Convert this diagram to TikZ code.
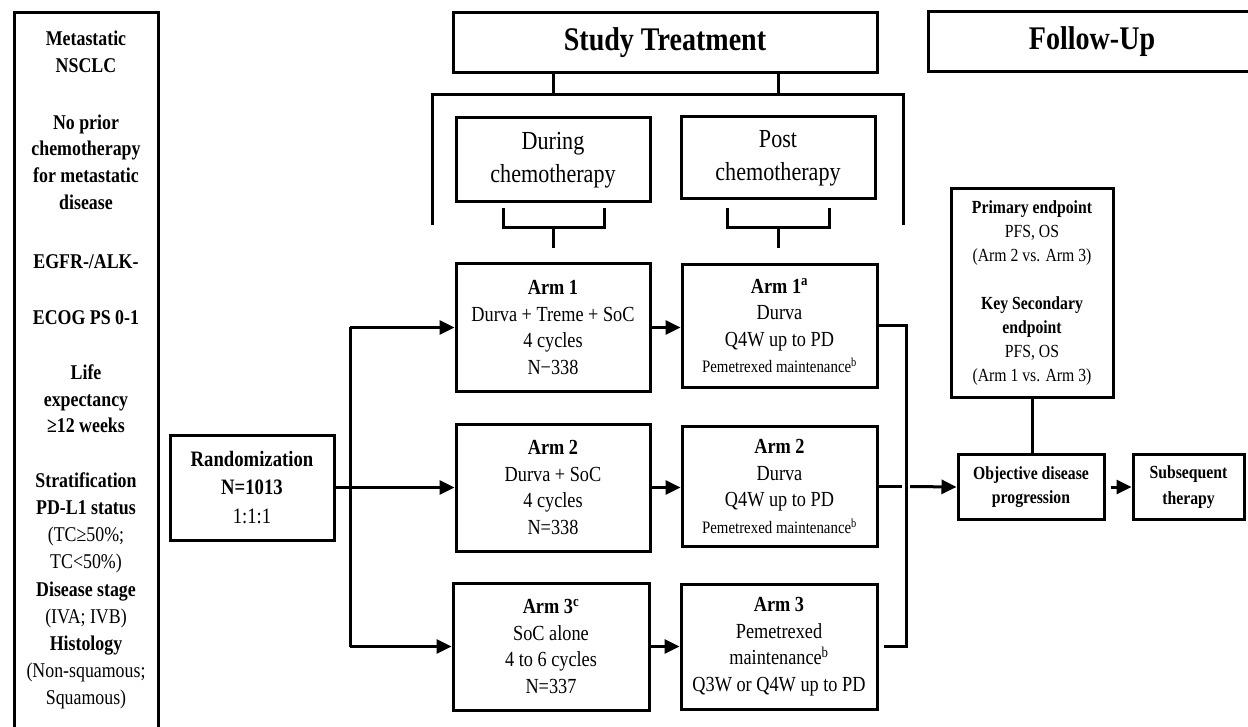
\documentclass[tikz,border=0pt]{standalone}
\usepackage{fontspec}
\setmainfont{Liberation Serif}[FakeStretch=0.85]
\usetikzlibrary{arrows.meta}
\begin{document}
\begin{tikzpicture}[x=1pt,y=-1pt,
  box/.style={draw, line width=3pt, inner sep=0pt, align=center},
  ln/.style={line width=3pt},
  arr/.style={line width=3pt, -{Triangle[length=15pt,width=14pt]}},
  body/.style={font=\fontsize{21.5}{26.5}\selectfont},
  head/.style={font=\fontsize{33}{38}\selectfont\bfseries},
  phase/.style={font=\fontsize{26}{33}\selectfont},
  lt/.style={align=center, inner sep=0pt, font=\fontsize{21}{26.7}\selectfont\bfseries},
  small/.style={font=\fontsize{18.5}{24}\selectfont}]
\useasboundingbox (0,0) rectangle (1248,727);

% left inclusion column
\draw[ln] (14,727) -- (14,13) -- (158,13) -- (158,727);
\node[lt] (c1) at (86,51.5) {Metastatic\\NSCLC};
\node[lt] (c2) at (86,162) {No prior\\chemotherapy\\for metastatic\\disease};
\node[lt] (c3) at (86,262) {EGFR-/ALK-};
\node[lt] (c4) at (86,318) {ECOG PS 0-1};
\node[lt] (c5) at (86,399) {Life\\expectancy\\≥12 weeks};
\node[lt, font=\fontsize{21}{27.2}\selectfont] (c6) at (86,591)
  {\textbf{Stratification}\\\textbf{PD-L1 status}\\(TC≥50\%;\\TC<50\%)\\\textbf{Disease stage}\\(IVA; IVB)\\\textbf{Histology}\\(Non-squamous;\\Squamous)};

% headers
\node[box, head, minimum width=424pt, minimum height=60pt] (stud) at (665,43) {Study Treatment};
\draw[ln] (1248,12) -- (928,12) -- (928,72) -- (1248,72);
\node[head, inner sep=0pt] (fu) at (1092,42) {Follow-Up};

% phase boxes
\node[box, phase, minimum width=194pt, minimum height=84pt] (during) at (553,160) {During\\chemotherapy};
\node[box, phase, minimum width=194pt, minimum height=82pt] (post) at (778,158) {Post\\chemotherapy};

% bracket under Study Treatment
\coordinate (bl) at (432,225);
\coordinate (tl) at (432,95);
\coordinate (tr) at (903,95);
\coordinate (br) at (903,225);
\draw[ln] (bl) -- (tl) -- (tr) -- (br);
\draw[ln] (stud.south -| during) -- (tl -| during);
\draw[ln] (stud.south -| post) -- (tl -| post);

% braces under phase boxes
\draw[ln] (503,208) -- (503,228) -- (604,228) -- (604,208);
\coordinate (d1) at (553,228);
\coordinate (d2) at (553,248);
\draw[ln] (d1) -- (d2);
\draw[ln] (727,208) -- (727,228) -- (829,228) -- (829,208);
\coordinate (q1) at (778,228);
\coordinate (q2) at (778,248);
\draw[ln] (q1) -- (q2);

% arm boxes
\node[box, body, minimum width=194pt, minimum height=127pt] (a1) at (553,327.5)
  {\textbf{Arm 1}\\Durva + Treme + SoC\\4 cycles\\N−338};
\node[box, body, minimum width=195pt, minimum height=122pt] (p1) at (779.5,326)
  {\textbf{Arm 1\textsuperscript{a}}\\Durva\\Q4W up to PD\\{\fontsize{17.5}{26.5}\selectfont Pemetrexed maintenance\textsuperscript{b}}};
\node[box, body, minimum width=194pt, minimum height=127pt] (a2) at (553,487.5)
  {\textbf{Arm 2}\\Durva + SoC\\4 cycles\\N=338};
\node[box, body, minimum width=195pt, minimum height=120pt] (p2) at (779.5,486.5)
  {\textbf{Arm 2}\\Durva\\Q4W up to PD\\{\fontsize{17.5}{26.5}\selectfont Pemetrexed maintenance\textsuperscript{b}}};
\node[box, body, minimum width=196pt, minimum height=127pt] (a3) at (551,646.5)
  {\textbf{Arm 3\textsuperscript{c}}\\SoC alone\\4 to 6 cycles\\N=337};
\node[box, body, minimum width=196pt, minimum height=125pt] (p3) at (779,646.5)
  {\textbf{Arm 3}\\Pemetrexed\\maintenance\textsuperscript{b}\\Q3W or Q4W up to PD};

% randomization
\node[box, font=\fontsize{22}{28.5}\selectfont, minimum width=164pt, minimum height=105pt] (rand) at (252,487.5)
  {\textbf{Randomization}\\\textbf{N=1013}\\1:1:1};
\coordinate (split) at (350,487.5);
\draw[ln] (rand.east) -- (split);
\draw[ln] (split |- a1.west) -- (split |- a3.west);
\draw[arr] (split |- a1.west) -- (a1.west);
\draw[arr] (split) -- (a2.west);
\draw[arr] (split |- a3.west) -- (a3.west);

% during -> post
\draw[arr] (a1.east) -- (a1.east -| p1.west);
\draw[arr] (a2.east) -- (a2.east -| p2.west);
\draw[arr] (a3.east) -- (a3.east -| p3.west);

% follow-up boxes
\node[box, small, minimum width=162pt, minimum height=208pt] (ep) at (1032,293)
  {\textbf{Primary endpoint}\\PFS, OS\\(Arm 2 vs. Arm 3)\\[24pt]\textbf{Key Secondary}\\\textbf{endpoint}\\PFS, OS\\(Arm 1 vs. Arm 3)};
\node[box, small, minimum width=146pt, minimum height=65pt] (obj) at (1031,487)
  {\textbf{Objective disease}\\\textbf{progression}};
\node[box, font=\fontsize{18.5}{26}\selectfont, minimum width=111pt, minimum height=65pt] (sub) at (1188.5,487)
  {\textbf{Subsequent}\\\textbf{therapy}};

% merge line on the right
\coordinate (mx) at (906,487);
\draw[ln] (p1.east) -- (p1.east -| mx) -- (mx |- p3.east) -- ([xshift=5pt]p3.east);
\draw[ln] (p2.east) -- ([xshift=-4pt]mx |- p2.east);
\draw[arr] ([xshift=4pt]mx |- p2.east) -- (obj.west);

\draw[ln] (ep.south) -- (ep.south |- obj.north);
\draw[arr] ([xshift=5pt]obj.east) -- (sub.west);
\end{tikzpicture}
\end{document}
